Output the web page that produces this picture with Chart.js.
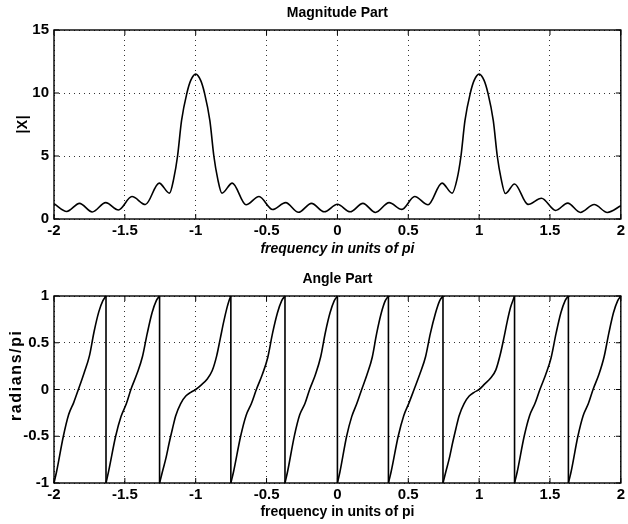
<!DOCTYPE html>
<html>
<head>
<meta charset="utf-8">
<script src="https://cdn.jsdelivr.net/npm/chart.js@4.4.1/dist/chart.umd.min.js"></script>
<style>
  html, body { margin: 0; padding: 0; background: #fff; }
  #wrap { position: relative; width: 628px; height: 524px; background: #fff; }
  .panel { position: absolute; left: 0; width: 628px; height: 262px; }
  #magPanel { top: 0; }
  #angPanel { top: 262px; }
</style>
</head>
<body>
<div id="wrap">
  <div class="panel" id="magPanel"><canvas id="mag" width="628" height="262"></canvas></div>
  <div class="panel" id="angPanel"><canvas id="ang" width="628" height="262"></canvas></div>
</div>
<script>
// Tick positions (frequency in units of pi)
const freqTicks = [-2, -1.5, -1, -0.5, 0, 0.5, 1, 1.5, 2];
const magTicks = [0, 5, 10, 15];
const angleTicks = [-1, -0.5, 0, 0.5, 1];

// Magnitude |X| against frequency
const magFreq = [
  -2.000, -1.910, -1.820, -1.730, -1.635, -1.545, -1.450, -1.355, -1.258, -1.185,
  -1.155, -1.128, -1.100, -1.062, -1.035, -1.000, -0.965, -0.938, -0.900, -0.872,
  -0.845, -0.815, -0.742, -0.645, -0.553, -0.458, -0.365, -0.275, -0.183, -0.093,
   0.000,  0.090,  0.180,  0.268,  0.365,  0.455,  0.545,  0.640,  0.738,  0.810,
   0.845,  0.872,  0.900,  0.938,  0.965,  1.000,  1.035,  1.062,  1.100,  1.128,
   1.155,  1.185,  1.250,  1.345,  1.440,  1.540,  1.625,  1.715,  1.812,  1.905,
   2.000
];
const magVal = [
  1.22, 0.60, 1.24, 0.56, 1.30, 0.72, 1.78, 1.15, 2.85, 2.05,
  3.20, 5.00, 7.80, 10.00, 11.00, 11.50, 11.00, 10.00, 7.80, 5.00,
  3.20, 2.05, 2.85, 1.13, 1.78, 0.75, 1.30, 0.53, 1.24, 0.57,
  1.17, 0.57, 1.24, 0.52, 1.30, 0.76, 1.78, 1.13, 2.85, 2.05,
  3.20, 5.00, 7.80, 10.00, 11.00, 11.50, 11.00, 10.00, 7.80, 5.00,
  3.20, 2.02, 2.78, 1.16, 1.65, 0.68, 1.26, 0.52, 1.15, 0.52,
  1.05
];

// Phase (radians/pi); a repeated frequency marks a wrap from +1 to -1
const phaseFreq = [
  -2.000, -1.982, -1.934, -1.897, -1.861, -1.828, -1.787, -1.750, -1.717, -1.684, -1.655, -1.633,
  -1.633, -1.614, -1.565, -1.527, -1.489, -1.455, -1.414, -1.376, -1.342, -1.308, -1.278, -1.255,
  -1.255, -1.235, -1.211, -1.187, -1.164, -1.141, -1.106, -1.070, -1.035, -1.000, -0.960, -0.920, -0.884, -0.852, -0.826, -0.803, -0.780, -0.765, -0.752,
  -0.752, -0.733, -0.683, -0.645, -0.607, -0.572, -0.530, -0.492, -0.458, -0.423, -0.393, -0.370,
  -0.370, -0.352, -0.303, -0.266, -0.229, -0.196, -0.155, -0.118, -0.085, -0.052, -0.022, 0.000,
   0.000,  0.018,  0.065,  0.101,  0.137,  0.169,  0.209,  0.245,  0.277,  0.310,  0.338, 0.360,
   0.360,  0.379,  0.429,  0.468,  0.506,  0.541,  0.583,  0.622,  0.656,  0.691,  0.722, 0.745,
   0.745,  0.765,  0.789,  0.813,  0.836,  0.859,  0.894,  0.930,  0.965,  1.000,  1.040,  1.080,  1.118,  1.150,  1.176,  1.200,  1.222,  1.238,  1.250,
   1.250,  1.269,  1.318,  1.356,  1.394,  1.429,  1.470,  1.508,  1.543,  1.577,  1.607, 1.630,
   1.630,  1.649,  1.697,  1.734,  1.771,  1.804,  1.845,  1.882,  1.915,  1.948,  1.978, 2.000
];
const phaseVal = [
  -1.00, -0.88, -0.50, -0.27, -0.14, 0.00, 0.18, 0.36, 0.62, 0.83, 0.95, 1.00,
  -1.00, -0.87, -0.50, -0.29, -0.15, 0.01, 0.17, 0.35, 0.60, 0.82, 0.95, 1.00,
  -1.00, -0.88, -0.74, -0.57, -0.42, -0.28, -0.15, -0.07, -0.03, 0.00, 0.05, 0.11, 0.20, 0.36, 0.55, 0.72, 0.87, 0.95, 1.00,
  -1.00, -0.88, -0.50, -0.28, -0.15, 0.00, 0.16, 0.34, 0.60, 0.82, 0.95, 1.00,
  -1.00, -0.88, -0.49, -0.27, -0.15, 0.00, 0.16, 0.35, 0.61, 0.82, 0.95, 1.00,
  -1.00, -0.88, -0.50, -0.29, -0.15, -0.01, 0.16, 0.34, 0.60, 0.82, 0.95, 1.00,
  -1.00, -0.88, -0.50, -0.28, -0.14, 0.00, 0.17, 0.35, 0.60, 0.81, 0.95, 1.00,
  -1.00, -0.88, -0.74, -0.57, -0.42, -0.28, -0.15, -0.07, -0.03, 0.00, 0.06, 0.12, 0.21, 0.38, 0.56, 0.74, 0.88, 0.95, 1.00,
  -1.00, -0.88, -0.50, -0.28, -0.15, 0.00, 0.16, 0.34, 0.60, 0.82, 0.95, 1.00,
  -1.00, -0.88, -0.50, -0.28, -0.15, 0.00, 0.16, 0.35, 0.60, 0.82, 0.95, 1.00
];

const FONT = "'Liberation Sans', Arial, Helvetica, sans-serif";
const tickFont = { family: FONT, size: 15, weight: 'bold' };
const labelFont = { family: FONT, size: 14, weight: 'bold' };

// Solid box round the axes with short inward tick marks on all four sides
const boxPlugin = {
  id: 'axesBox',
  afterDatasetsDraw(chart) {
    const { ctx, chartArea: a, scales } = chart;
    const len = 5;
    ctx.save();
    ctx.strokeStyle = '#000';
    ctx.lineWidth = 1.4;
    ctx.strokeRect(a.left, a.top, a.right - a.left, a.bottom - a.top);
    ctx.lineWidth = 1;
    ctx.beginPath();
    scales.x.ticks.forEach(t => {
      const px = scales.x.getPixelForValue(t.value);
      ctx.moveTo(px, a.bottom); ctx.lineTo(px, a.bottom - len);
      ctx.moveTo(px, a.top); ctx.lineTo(px, a.top + len);
    });
    scales.y.ticks.forEach(t => {
      const py = scales.y.getPixelForValue(t.value);
      ctx.moveTo(a.left, py); ctx.lineTo(a.left + len, py);
      ctx.moveTo(a.right, py); ctx.lineTo(a.right - len, py);
    });
    ctx.stroke();
    ctx.restore();
  }
};

// Rotated y-axis label
const yLabelPlugin = {
  id: 'yLabel',
  afterDraw(chart, args, opts) {
    if (!opts || !opts.text) return;
    const ctx = chart.ctx;
    ctx.save();
    ctx.font = `bold ${opts.size}px ${FONT}`;
    ctx.fillStyle = '#000';
    const sp = opts.spacing || 0;
    if ('letterSpacing' in ctx) ctx.letterSpacing = sp + 'px';
    const w = ctx.measureText(opts.text).width - sp;
    ctx.translate(opts.x, opts.y);
    ctx.rotate(-Math.PI / 2);
    ctx.textBaseline = 'middle';
    ctx.textAlign = 'left';
    ctx.fillText(opts.text, -w / 2, 0);
    ctx.restore();
  }
};

function axisX(xTitle, italic, titleBottom, height) {
  return {
    type: 'linear', min: -2, max: 2,
    afterBuildTicks: s => { s.ticks = freqTicks.map(v => ({ value: v })); },
    afterFit: s => { s.height = height; },
    ticks: { color: '#000', font: tickFont, padding: 3, maxRotation: 0, autoSkip: false,
             callback: v => String(v) },
    grid: { color: '#333', lineWidth: 1, drawTicks: false },
    border: { display: false, dash: [1, 4] },
    title: { display: true, text: xTitle, color: '#000',
             font: Object.assign({}, labelFont, italic ? { style: 'italic' } : {}),
             padding: { top: 0, bottom: titleBottom } }
  };
}

function axisY(min, max, tickList) {
  return {
    type: 'linear', min: min, max: max,
    afterBuildTicks: s => { s.ticks = tickList.map(v => ({ value: v })); },
    afterFit: s => { s.width = 54; },
    ticks: { color: '#000', font: tickFont, padding: 5, callback: v => String(v) },
    grid: { color: '#333', lineWidth: 1, drawTicks: false },
    border: { display: false, dash: [1, 4] },
    title: { display: false }
  };
}

const lineStyle = {
  borderColor: '#000', borderWidth: 1.6, pointRadius: 0, fill: false,
  cubicInterpolationMode: 'monotone', clip: false
};

// Magnitude panel
new Chart(document.getElementById('mag'), {
  type: 'line',
  data: {
    datasets: [Object.assign({
      data: magFreq.map((f, i) => ({ x: f, y: magVal[i] }))
    }, lineStyle)]
  },
  options: {
    responsive: false, animation: false, events: [],
    layout: { padding: { left: 0, right: 7, top: 0, bottom: 0 } },
    plugins: {
      legend: { display: false }, tooltip: { enabled: false },
      title: { display: true, fullSize: false, text: 'Magnitude Part', color: '#000', font: labelFont,
               padding: { top: 4.6, bottom: 8.6 } },
      yLabel: { text: '|X|', x: 23, y: 124.5, size: 14, spacing: 0.5 }
    },
    scales: { x: axisX('frequency in units of pi', true, 4.6, 43), y: axisY(0, 15, magTicks) }
  },
  plugins: [boxPlugin, yLabelPlugin]
});

// Angle panel: one smooth dataset per branch, plus the vertical wrap lines
const segments = [];
const wraps = [];
let cur = [];
phaseFreq.forEach((f, i) => {
  if (i > 0 && f === phaseFreq[i - 1]) {
    segments.push(cur);
    cur = [];
    wraps.push({ x: f, y: phaseVal[i - 1] }, { x: f, y: phaseVal[i] }, { x: f, y: null });
  }
  cur.push({ x: f, y: phaseVal[i] });
});
segments.push(cur);

const angleSets = segments.map(seg => Object.assign({ data: seg }, lineStyle));
angleSets.push(Object.assign({}, lineStyle, { data: wraps, cubicInterpolationMode: 'default', tension: 0, spanGaps: false }));

new Chart(document.getElementById('ang'), {
  type: 'line',
  data: { datasets: angleSets },
  options: {
    responsive: false, animation: false, events: [],
    layout: { padding: { left: 0, right: 7, top: 0, bottom: 0 } },
    plugins: {
      legend: { display: false }, tooltip: { enabled: false },
      title: { display: true, fullSize: false, text: 'Angle Part', color: '#000', font: labelFont,
               padding: { top: 8.6, bottom: 8.6 } },
      yLabel: { text: 'radians/pi', x: 17, y: 114, size: 16, spacing: 1.6 }
    },
    scales: { x: axisX('frequency in units of pi', false, 3.6, 41), y: axisY(-1, 1, angleTicks) }
  },
  plugins: [boxPlugin, yLabelPlugin]
});
</script>
</body>
</html>
